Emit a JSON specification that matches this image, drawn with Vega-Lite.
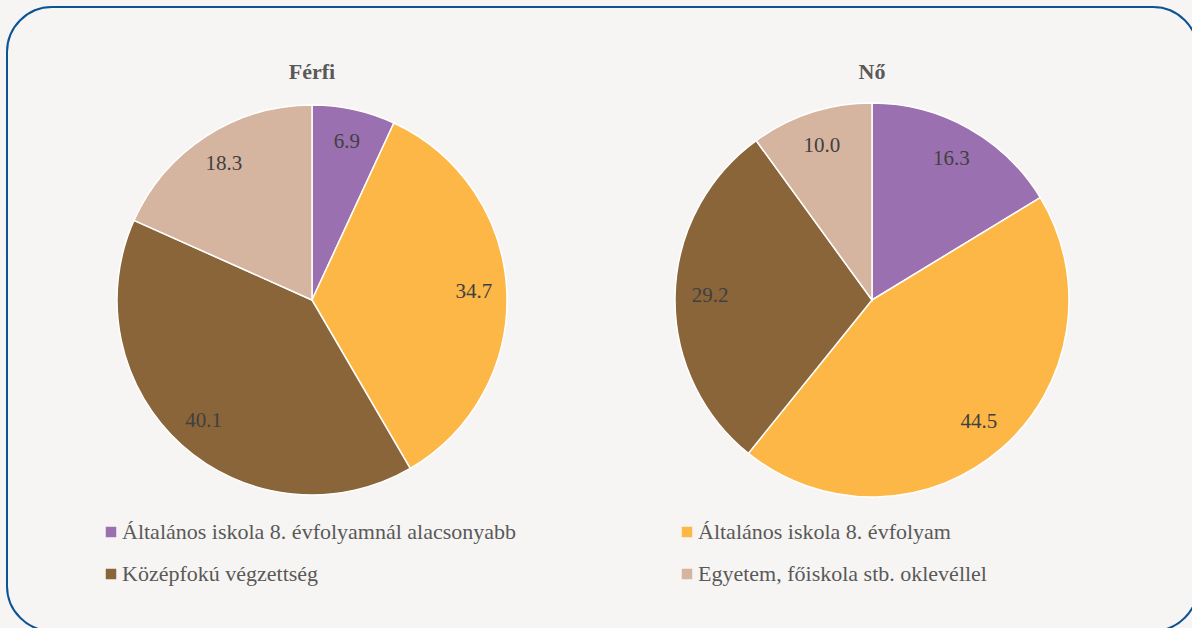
{
  "$schema": "https://vega.github.io/schema/vega-lite/v6.json",
  "width": 1192,
  "height": 628,
  "autosize": {"type": "fit", "contains": "padding"},
  "padding": {"left": 7, "top": 7, "right": -6, "bottom": -3},
  "background": "#f7f5f3",
  "config": {
    "view": {"fill": "#f7f5f3", "stroke": "#0b5394", "strokeWidth": 2, "cornerRadius": 45},
    "font": "Liberation Serif"
  },
  "datasets": {
    "edu": [
      {"sex": "Férfi", "k": 1, "cat": "Általános iskola 8. évfolyamnál alacsonyabb", "value": 6.9},
      {"sex": "Férfi", "k": 2, "cat": "Általános iskola 8. évfolyam", "value": 34.7},
      {"sex": "Férfi", "k": 3, "cat": "Középfokú végzettség", "value": 40.1},
      {"sex": "Férfi", "k": 4, "cat": "Egyetem, főiskola stb. oklevéllel", "value": 18.3},
      {"sex": "Nő", "k": 1, "cat": "Általános iskola 8. évfolyamnál alacsonyabb", "value": 16.3},
      {"sex": "Nő", "k": 2, "cat": "Általános iskola 8. évfolyam", "value": 44.5},
      {"sex": "Nő", "k": 3, "cat": "Középfokú végzettség", "value": 29.2},
      {"sex": "Nő", "k": 4, "cat": "Egyetem, főiskola stb. oklevéllel", "value": 10.0}
    ],
    "titles": [{"sex": "Férfi"}, {"sex": "Nő"}]
  },
  "data": {"name": "edu"},
  "encoding": {
    "x": {"field": "sex", "type": "nominal", "axis": null, "scale": {"type": "point", "padding": 0, "domain": ["Férfi", "Nő"], "range": [305, 865]}}
  },
  "layer": [
    {
      "transform": [{"filter": "datum.sex === 'Férfi'"}],
      "mark": {"type": "arc", "outerRadius": 195, "stroke": "#ffffff", "strokeWidth": 1.5},
      "encoding": {
        "y": {"datum": "pie", "type": "nominal", "axis": null, "scale": {"type": "point", "padding": 0, "domain": ["title", "pie"], "range": [65, 293]}},
        "theta": {"field": "value", "type": "quantitative", "stack": true, "scale": {"domain": [0, 100]}},
        "order": {"field": "k", "type": "quantitative"},
        "color": {
          "field": "cat", "type": "nominal",
          "scale": {
            "domain": ["Általános iskola 8. évfolyamnál alacsonyabb", "Középfokú végzettség", "Általános iskola 8. évfolyam", "Egyetem, főiskola stb. oklevéllel"],
            "range": ["#9b70b0", "#8a6539", "#fcb746", "#d6b5a0"]
          },
          "legend": {
            "title": null, "orient": "none", "legendX": 93, "legendY": 514,
            "columns": 2, "columnPadding": 159, "rowPadding": 20,
            "symbolType": "square", "symbolSize": 110, "symbolStrokeWidth": 0,
            "labelFont": "Liberation Serif", "labelFontSize": 22, "labelColor": "#595959", "labelLimit": 600, "labelOffset": 0
          }
        }
      }
    },
    {
      "transform": [{"filter": "datum.sex === 'Férfi'"}],
      "mark": {"type": "text", "radius": 162, "fontSize": 21, "color": "#404040", "baseline": "middle"},
      "encoding": {
        "y": {"datum": "pie", "type": "nominal"},
        "theta": {"field": "value", "type": "quantitative", "stack": true},
        "order": {"field": "k", "type": "quantitative"},
        "text": {"field": "value", "type": "quantitative", "format": ".1f"}
      }
    },
    {
      "transform": [{"filter": "datum.sex === 'Nő'"}],
      "mark": {"type": "arc", "outerRadius": 197, "stroke": "#ffffff", "strokeWidth": 1.5},
      "encoding": {
        "y": {"datum": "pie", "type": "nominal"},
        "theta": {"field": "value", "type": "quantitative", "stack": true},
        "order": {"field": "k", "type": "quantitative"},
        "color": {"field": "cat", "type": "nominal"}
      }
    },
    {
      "transform": [{"filter": "datum.sex === 'Nő'"}],
      "mark": {"type": "text", "radius": 162, "fontSize": 21, "color": "#404040", "baseline": "middle"},
      "encoding": {
        "y": {"datum": "pie", "type": "nominal"},
        "theta": {"field": "value", "type": "quantitative", "stack": true},
        "order": {"field": "k", "type": "quantitative"},
        "text": {"field": "value", "type": "quantitative", "format": ".1f"}
      }
    },
    {
      "data": {"name": "titles"},
      "mark": {"type": "text", "fontSize": 22, "fontWeight": "bold", "color": "#595959", "baseline": "middle"},
      "encoding": {
        "y": {"datum": "title", "type": "nominal"},
        "text": {"field": "sex", "type": "nominal"}
      }
    }
  ]
}
